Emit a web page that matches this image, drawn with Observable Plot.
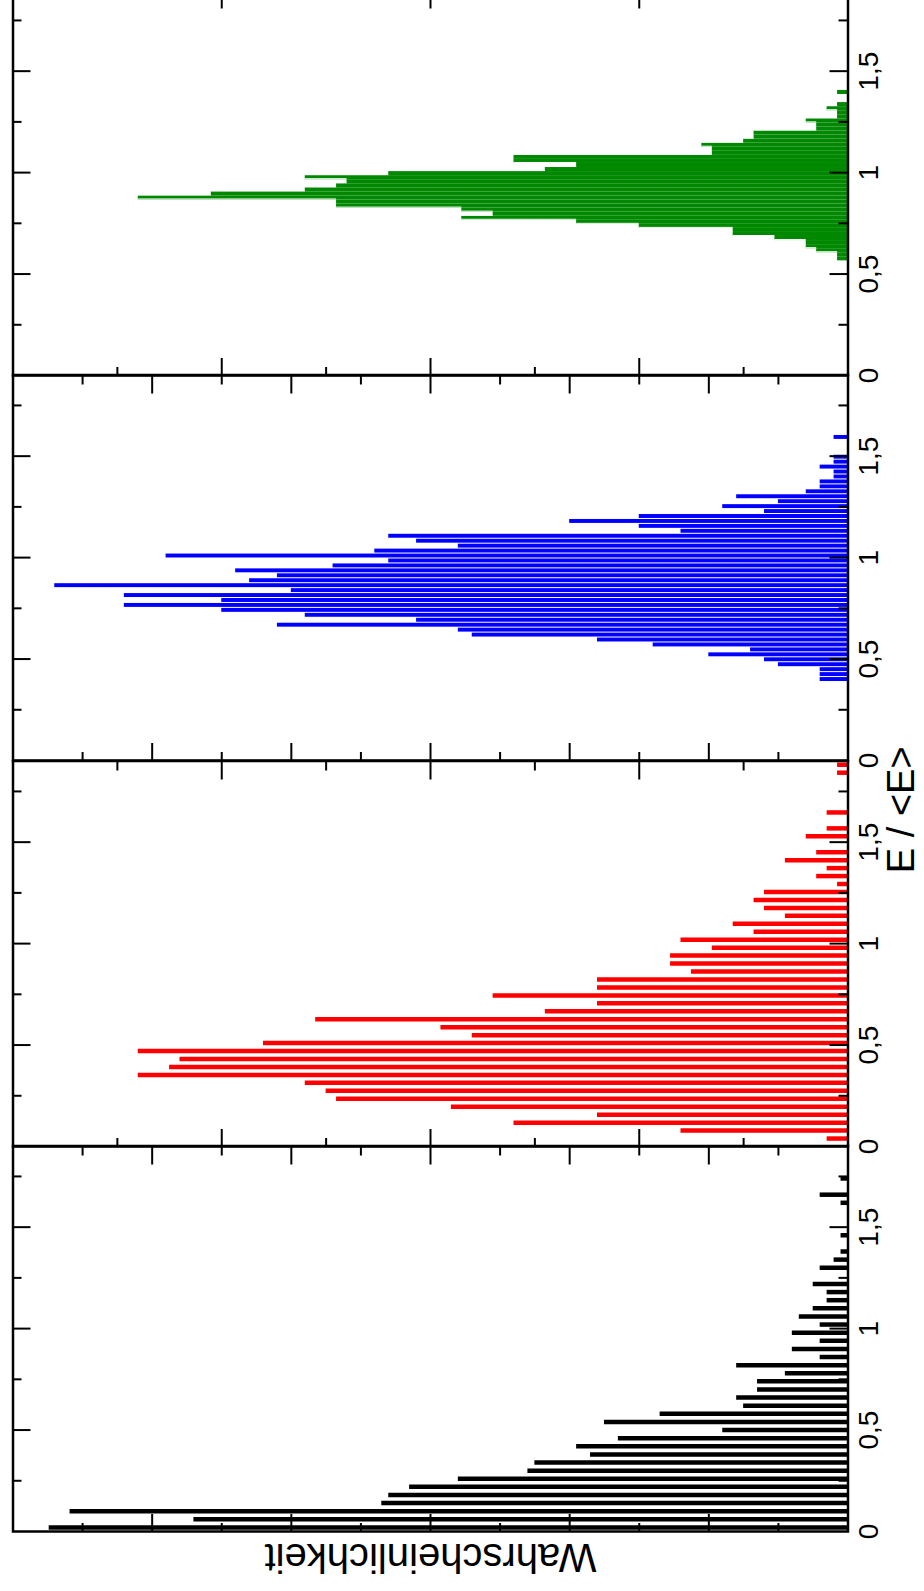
<!DOCTYPE html>
<html><head><meta charset="utf-8">
<script src="https://cdn.jsdelivr.net/npm/d3@7"></script>
<script src="https://cdn.jsdelivr.net/npm/@observablehq/plot@0.6"></script>
<style>
html,body{margin:0;padding:0;background:#fff;}
#page{position:relative;width:924px;height:1591px;overflow:hidden;background:#fff;}
#rot{position:absolute;left:0;top:0;width:1660px;height:924px;transform-origin:0 0;transform:translate(0px,1591px) rotate(-90deg);}
#rot svg{position:absolute;top:0;}
</style></head><body>
<div id="page"><div id="rot"></div></div>
<script>
// ---------- data ----------
const panelColors = ["#000000", "#ff0000", "#0000ff", "#008800"];
const eTicks = [0, 0.5, 1, 1.5];
const eMinorTicks = [0.25, 0.75, 1.25, 1.75];
const eMajorMarks = [0.5, 1, 1.5];
const probMax = [6, 4, 6, 4];
const probTicks6 = [1, 2, 3, 4, 5];
const probMinor6 = [0.5, 1.5, 2.5, 3.5, 4.5, 5.5];
const probTicks4 = [1, 2, 3];
const probMinor4 = [0.5, 1.5, 2.5, 3.5];
const xLabel = "E / <E>";
const yLabel = "Wahrscheinlichkeit";

// histogram bins (E/<E>): first bin centre and bin width per panel
const blackBinStart = 0.02, blackBinWidth = 0.04;
const blackValues = [5.74, 4.70, 5.59, 3.35, 3.30, 3.15, 2.80, 2.30, 2.25, 1.85,
  1.95, 1.65, 0.90, 1.75, 1.35, 0.75, 0.80, 0.65, 0.65, 0.45,
  0.80, 0.20, 0.40, 0.20, 0.40, 0.20, 0.35, 0.25, 0.15, 0.15,
  0.25, 0, 0.20, 0.10, 0.05, 0, 0.05, 0, 0, 0,
  0.05, 0.20, 0, 0.05];

const redBinStart = 0.0392, redBinWidth = 0.0392;
const redValues = [0.10, 0.80, 1.60, 1.20, 1.90, 2.45, 2.50, 2.60, 3.40, 3.25,
  3.20, 3.40, 2.80, 1.80, 1.95, 2.55, 1.45, 1.20, 1.70, 1.20,
  1.20, 0.75, 0.85, 0.85, 0.65, 0.80, 0.45, 0.55, 0.30, 0.40,
  0.45, 0.40, 0.05, 0.15, 0.10, 0.30, 0.15, 0, 0.20, 0.10,
  0, 0.10, 0, 0, 0, 0, 0.05, 0.05];

const blueBinStart = 0.404, blueBinWidth = 0.02435;
const blueValues = [0.20, 0.20, 0.20, 0.50, 0.60, 1.00, 0.70, 1.40, 1.80, 2.70,
  2.80, 4.10, 3.10, 3.90, 4.50, 5.20, 4.50, 5.20, 4.00, 5.70,
  4.30, 4.10, 4.40, 3.70, 3.30, 4.90, 3.40, 2.80, 3.10, 3.30,
  1.20, 1.50, 2.00, 1.50, 0.60, 0.90, 0.50, 0.80, 0.30, 0.20,
  0.20, 0.10, 0.10, 0.20, 0.10, 0.10, 0, 0, 0, 0.10];

const greenBinStart = 0.58, greenBinWidth = 0.02;
const greenValues = [0.05, 0.05, 0.15, 0.20, 0.20, 0.35, 0.55, 0.55, 1.00, 1.30,
  1.85, 1.70, 1.85, 2.45, 2.45, 3.40, 3.05, 2.60, 2.45, 2.40,
  2.60, 2.20, 1.45, 1.30, 1.60, 1.60, 0.65, 0.65, 0.70, 0.50,
  0.45, 0.45, 0.15, 0.15, 0.20, 0.05, 0.05, 0.10, 0.05, 0,
  0, 0.05];

// ---------- layout ----------
const panelW = 385.5, firstLeft = 58.7;
const mL = 50, mR = 50, H = 924, mT = 12.5, mB = 76.5;
const innerH = H - mT - mB;
const font = "'Liberation Sans', Arial, Helvetica, sans-serif";
const fmt = d => String(d).replace(".", ",");

function toRows(start, width, values) {
  return values.map((v, i) => ({E: start + i * width, v})).filter(d => d.v > 0);
}

function makePanel(j, barMarks, extra) {
  const pm = probMax[j];
  const majors = pm === 6 ? probTicks6 : probTicks4;
  const minors = pm === 6 ? probMinor6 : probMinor4;
  const tk = {stroke: "black", strokeWidth: 2};
  const svg = Plot.plot({
    width: mL + panelW + mR,
    height: H,
    marginLeft: mL, marginRight: mR, marginTop: mT, marginBottom: mB,
    x: {domain: [0, 1.9]},
    y: {domain: [0, pm], axis: null},
    style: {fontFamily: font, background: "transparent", overflow: "visible", maxWidth: "none", color: "black"},
    marks: [
      ...barMarks,
      Plot.tickX(eMajorMarks, {x: d => d, insetBottom: innerH - 18, ...tk}),
      Plot.tickX(eMajorMarks, {x: d => d, insetTop: innerH - 18, ...tk}),
      Plot.tickX(eMinorTicks, {x: d => d, insetBottom: innerH - 9, ...tk}),
      Plot.tickX(eMinorTicks, {x: d => d, insetTop: innerH - 9, ...tk}),
      Plot.tickY(majors, {y: d => d, insetRight: panelW - 18, ...tk}),
      Plot.tickY(majors, {y: d => d, insetLeft: panelW - 18, ...tk}),
      Plot.tickY(minors, {y: d => d, insetRight: panelW - 9, ...tk}),
      Plot.tickY(minors, {y: d => d, insetLeft: panelW - 9, ...tk}),
      Plot.frame({stroke: "black", strokeWidth: 2.5}),
      Plot.axisX(eTicks, {anchor: "bottom", tickSize: 0, tickPadding: 10, fontSize: 28, tickFormat: fmt, label: null}),
      ...(extra || [])
    ]
  });
  svg.style.left = (firstLeft + j * panelW - mL) + "px";
  document.getElementById("rot").appendChild(svg);
}

// black
makePanel(0, [
  Plot.ruleX(toRows(blackBinStart, blackBinWidth, blackValues), {x: "E", y1: 0, y2: "v", stroke: panelColors[0], strokeWidth: 4.5})
], [
  Plot.text([yLabel], {frameAnchor: "left", rotate: -90, dx: -12.7, textAnchor: "middle", lineAnchor: "bottom", fontSize: 40, fill: "black"})
]);

// red
makePanel(1, [
  Plot.ruleX(toRows(redBinStart, redBinWidth, redValues), {x: "E", y1: 0, y2: "v", stroke: panelColors[1], strokeWidth: 4.5})
], [
  Plot.text([xLabel], {frameAnchor: "bottom", dx: 144, dy: 66, textAnchor: "middle", lineAnchor: "bottom", fontSize: 38, fill: "black"})
]);

// blue
makePanel(2, [
  Plot.rect(toRows(blueBinStart, blueBinWidth, blueValues), {
    x1: d => d.E - blueBinWidth / 2, x2: d => d.E + blueBinWidth / 2, y1: 0, y2: "v",
    fill: panelColors[2], insetLeft: 0.5, insetRight: 0.5
  })
]);

// green
const greenRows = toRows(greenBinStart, greenBinWidth, greenValues);
const greenSteps = [];
for (let i = 0; i < greenValues.length - 1; i++) {
  const a = greenValues[i], b = greenValues[i + 1];
  if (a !== b && Math.min(a, b) > 0) greenSteps.push({E: greenBinStart + (i + 0.5) * greenBinWidth, lo: Math.min(a, b), hi: Math.max(a, b)});
}
makePanel(3, [
  Plot.rect(greenRows, {
    x1: d => d.E - greenBinWidth / 2, x2: d => d.E + greenBinWidth / 2, y1: 0, y2: "v",
    fill: panelColors[3]
  }),
  Plot.ruleX(greenSteps, {x: "E", y1: "lo", y2: "hi", stroke: "white", strokeWidth: 1})
]);
</script>
</body></html>
